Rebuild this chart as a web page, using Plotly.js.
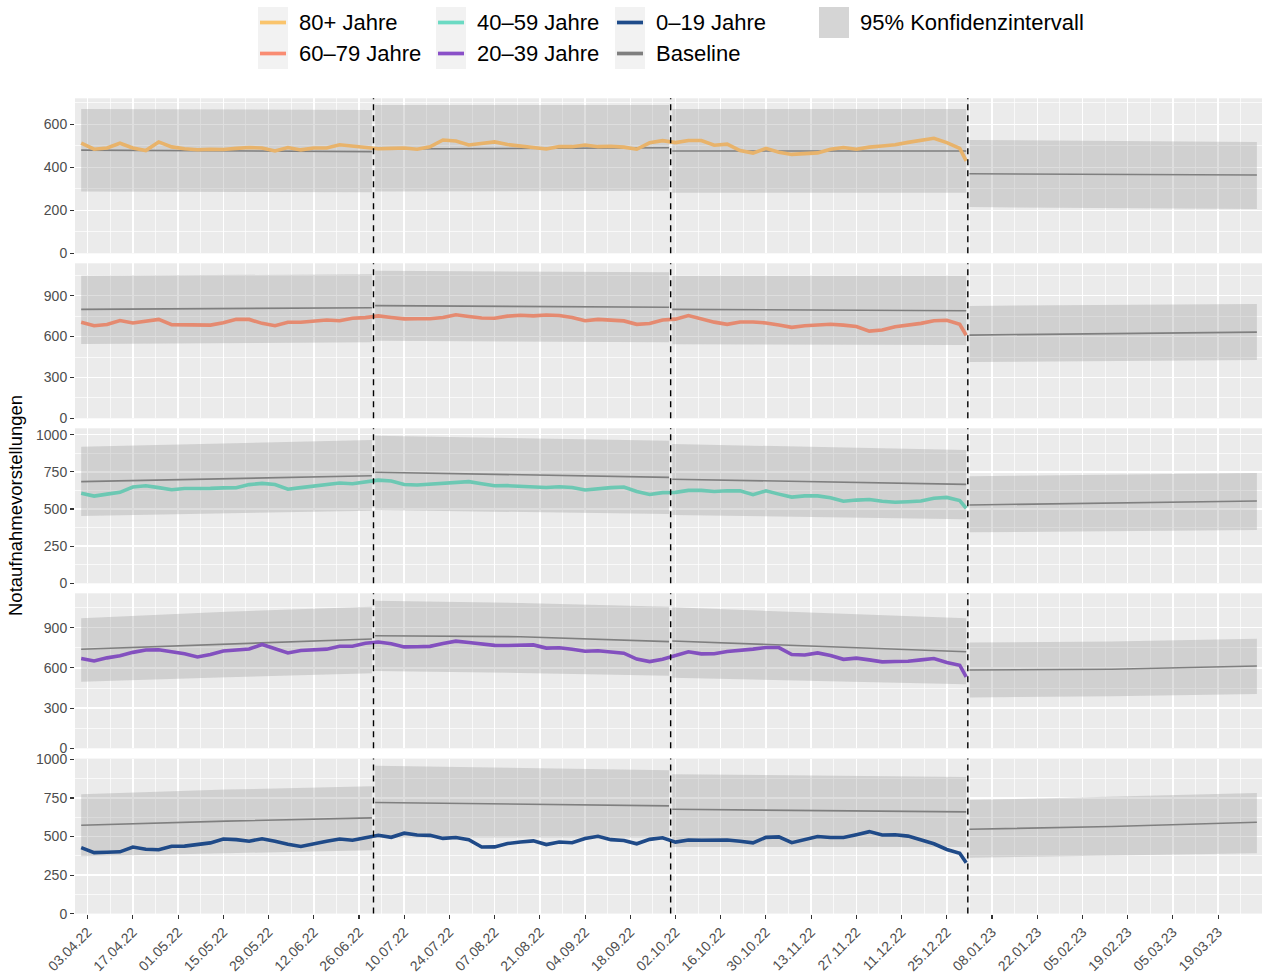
<!DOCTYPE html>
<html>
<head>
<meta charset="utf-8">
<script src="https://cdn.plot.ly/plotly-3.0.1.min.js"></script>
<style>
html,body{margin:0;padding:0;background:#ffffff;}
#chart{width:1264px;height:974px;}
</style>
</head>
<body>
<div id="chart"></div>
<script>
// ---------------- DATA ----------------
const groups = ['80+ Jahre', '60–79 Jahre', '40–59 Jahre', '20–39 Jahre', '0–19 Jahre'];
const lineColors = ['#E8B36B', '#E58A70', '#6CC8B3', '#8350BF', '#1F4A88'];
const legendColors = ['#FAC46C', '#F98C72', '#6BDAC3', '#8A50C8', '#1E4B8A'];

// day offsets from 01.04.2022 of the sampled daily values (every 4th day + 31.12.2022)
const dayOffsets = [0,4,8,12,16,20,24,28,32,36,40,44,48,52,56,60,64,68,72,76,80,84,88,
  92,96,100,104,108,112,116,120,124,128,132,136,140,144,148,152,156,160,164,168,172,176,180,
  184,188,192,196,200,204,208,212,216,220,224,228,232,236,240,244,248,252,256,260,264,268,272,274];

const values80 = [512,484,490,512,490,478,518,495,486,482,484,483,488,492,490,476,492,481,490,490,505,500,492,
  486,488,490,484,495,527,522,504,510,518,506,498,490,485,497,496,504,496,498,494,484,514,524,
  515,525,525,503,508,478,466,488,470,460,465,467,484,492,484,494,499,505,516,525,535,515,488,430];
const values60 = [705,680,688,718,700,712,726,688,685,681,684,702,727,726,697,680,705,705,712,722,716,735,739,
  752,740,730,731,731,740,760,748,736,735,750,757,752,758,755,740,716,726,722,715,690,696,722,
  728,754,728,706,690,707,707,700,685,668,680,685,690,684,674,640,648,672,682,697,716,720,690,610];
const values40 = [606,587,600,612,648,656,644,630,638,637,639,642,643,664,672,665,633,644,655,661,675,670,683,
  694,688,665,661,666,668,678,684,670,656,657,655,649,645,650,645,628,637,644,648,618,598,610,
  612,625,625,618,623,622,596,622,600,580,588,588,576,552,560,564,552,545,549,554,572,578,557,505];
const values20 = [670,652,675,691,716,734,736,720,706,682,700,726,736,741,775,746,712,730,735,740,762,762,784,
  793,781,757,758,761,782,800,790,780,768,767,771,772,748,750,740,724,728,716,710,666,647,664,
  695,720,705,706,722,728,740,752,752,700,696,712,692,664,673,660,645,648,650,660,670,640,620,534];
const values0 = [428,396,398,401,432,418,414,437,438,446,459,484,480,470,486,470,450,436,455,470,484,476,492,
  508,495,522,510,508,488,494,480,432,433,455,465,472,448,465,460,487,502,480,474,453,482,492,
  464,478,476,476,478,470,459,495,498,460,482,500,494,494,512,532,510,512,503,476,453,416,392,330];

// quarter segments of baseline and 95% interval: start, middle, end of each quarter
const quarterDates = [
  ['2022-04-01', '2022-05-16', '2022-06-30'],
  ['2022-07-01', '2022-08-15', '2022-09-30'],
  ['2022-10-01', '2022-11-15', '2022-12-31'],
  ['2023-01-01', '2023-02-14', '2023-03-31']
];
const baseline80 = [[480,477,473],[485,488,491],[476,476,476],[370,367,364]];
const upper80    = [[671,669,667],[690,690,690],[671,671,671],[527,523,518]];
const lower80    = [[287,286,284],[287,289,291],[282,282,282],[215,211,206]];

const baseline60 = [[800,806,812],[827,822,815],[800,796,790],[611,622,633]];
const upper60    = [[1047,1052,1057],[1084,1079,1072],[1047,1047,1047],[825,832,839]];
const lower60    = [[545,552,558],[570,565,558],[543,540,538],[413,420,428]];

const baseline40 = [[684,706,724],[747,731,713],[700,683,666],[527,540,554]];
const upper40    = [[919,943,964],[993,977,960],[937,917,897],[720,730,742]];
const lower40    = [[453,472,489],[493,480,466],[460,446,431],[343,350,359]];

const baseline20 = [[739,780,816],[840,833,796],[801,760,721],[584,590,614]];
const upper20    = [[970,1020,1057],[1102,1085,1057],[1052,1010,970],[789,798,818]];
const lower20    = [[497,530,560],[577,562,542],[527,500,478],[380,388,405]];

const baseline0  = [[573,600,621],[721,712,699],[677,667,660],[547,565,593]];
const upper0     = [[775,805,827],[959,946,931],[905,895,887],[737,757,782]];
const lower0     = [[372,392,411],[494,494,494],[433,433,433],[362,375,392]];

const quarterBreaks = ['2022-06-30 12:00', '2022-09-30 12:00', '2022-12-31 12:00'];

const yMax = [721, 1138, 1043, 1157, 1006];
const yTicks = [[0,200,400,600],[0,300,600,900],[0,250,500,750,1000],[0,300,600,900],[0,250,500,750,1000]];
const yMinorStep = [100, 150, 125, 150, 125];

const legendLabels = ['80+ Jahre','60–79 Jahre','40–59 Jahre','20–39 Jahre','0–19 Jahre','Baseline','95% Konfidenzintervall'];
const yTitle = 'Notaufnahmevorstellungen';

// ---------------- BUILD ----------------
const seriesValues = [values80, values60, values40, values20, values0];
const baselines = [baseline80, baseline60, baseline40, baseline20, baseline0];
const uppers = [upper80, upper60, upper40, upper20, upper0];
const lowers = [lower80, lower60, lower40, lower20, lower0];

const start = Date.UTC(2022, 3, 1);
const dates = dayOffsets.map(d => new Date(start + d * 86400000).toISOString().slice(0, 10));

const W = 1264, H = 974, ML = 75, MR = 2;
const PW = W - ML - MR;
const px = v => (v - ML) / PW;
const py = v => 1 - v / H;
const panelTops = [98.3, 263.3, 428.3, 593.3, 758.6];
const panelH = 155;

const ribbonFill = 'rgba(145,145,145,0.3)';
const baseColor = '#7F7F7F';
const font = 'Liberation Sans, Arial, Helvetica, sans-serif';

const traces = [];
const layout = {
  width: W, height: H,
  margin: {l: ML, r: MR, t: 0, b: 0},
  paper_bgcolor: '#FFFFFF',
  plot_bgcolor: '#EBEBEB',
  showlegend: false,
  font: {family: font, color: '#000000'},
  xaxis: {
    type: 'date',
    domain: [0, 1],
    anchor: 'y5',
    range: ['2022-03-30 02:00', '2023-04-01 14:00'],
    tick0: '2022-04-03',
    dtick: 14 * 86400000,
    tickformat: '%d.%m.%y',
    tickangle: -45,
    ticks: 'outside', ticklen: 4, tickwidth: 1.1, tickcolor: '#333333',
    tickfont: {size: 14, color: '#4D4D4D', family: font},
    showgrid: true, gridcolor: '#FFFFFF', gridwidth: 1.5,
    minor: {tick0: '2022-04-03', dtick: 7 * 86400000, showgrid: true, gridcolor: '#FFFFFF', gridwidth: 0.7, ticks: ''},
    zeroline: false, showline: false, fixedrange: true
  },
  shapes: [],
  annotations: []
};

for (let i = 0; i < 5; i++) {
  const yName = i === 0 ? 'y' : 'y' + (i + 1);
  const yKey = i === 0 ? 'yaxis' : 'yaxis' + (i + 1);
  const top = panelTops[i];
  layout[yKey] = {
    domain: [py(top + panelH), py(top)],
    anchor: 'x',
    range: [0, yMax[i]],
    tickmode: 'array', tickvals: yTicks[i], ticktext: yTicks[i].map(String),
    ticks: 'outside', ticklen: 4, tickwidth: 1.1, tickcolor: '#333333',
    tickfont: {size: 14, color: '#4D4D4D', family: font},
    showgrid: true, gridcolor: '#FFFFFF', gridwidth: 1.5,
    minor: {dtick: yMinorStep[i], tick0: 0, showgrid: true, gridcolor: '#FFFFFF', gridwidth: 0.7, ticks: ''},
    zeroline: false, showline: false, fixedrange: true
  };

  // ribbons (one polygon per quarter)
  for (let q = 0; q < 4; q++) {
    const qd = quarterDates[q];
    traces.push({
      type: 'scatter', mode: 'lines', xaxis: 'x', yaxis: yName,
      x: [qd[0], qd[1], qd[2], qd[2], qd[1], qd[0]],
      y: [uppers[i][q][0], uppers[i][q][1], uppers[i][q][2], lowers[i][q][2], lowers[i][q][1], lowers[i][q][0]],
      fill: 'toself', fillcolor: ribbonFill, line: {width: 0}, hoverinfo: 'skip'
    });
  }
  // baseline segments
  const bx = [], by = [];
  for (let q = 0; q < 4; q++) {
    for (let k = 0; k < 3; k++) { bx.push(quarterDates[q][k]); by.push(baselines[i][q][k]); }
    bx.push(null); by.push(null);
  }
  traces.push({
    type: 'scatter', mode: 'lines', xaxis: 'x', yaxis: yName,
    x: bx, y: by, connectgaps: false,
    line: {color: baseColor, width: 1.6}, hoverinfo: 'skip'
  });
  // observed values
  traces.push({
    type: 'scatter', mode: 'lines', xaxis: 'x', yaxis: yName, name: groups[i],
    x: dates, y: seriesValues[i],
    line: {color: lineColors[i], width: 3.6, shape: 'linear'}
  });
  // quarter break dashed lines
  quarterBreaks.forEach(d => {
    layout.shapes.push({
      type: 'line', xref: 'x', yref: yName + ' domain',
      x0: d, x1: d, y0: 0, y1: 1,
      line: {color: '#000000', width: 1.4, dash: '6px,5px'}
    });
  });
}

// ---------------- LEGEND (manual, ggplot style) ----------------
const colX = [258, 436, 615, 819];
const rowY = [[7, 38], [38, 69]];
const legendItems = [
  {col: 0, row: 0, label: legendLabels[0], color: legendColors[0]},
  {col: 0, row: 1, label: legendLabels[1], color: legendColors[1]},
  {col: 1, row: 0, label: legendLabels[2], color: legendColors[2]},
  {col: 1, row: 1, label: legendLabels[3], color: legendColors[3]},
  {col: 2, row: 0, label: legendLabels[4], color: legendColors[4]},
  {col: 2, row: 1, label: legendLabels[5], color: baseColor},
  {col: 3, row: 0, label: legendLabels[6], color: null}
];
legendItems.forEach(it => {
  const x0 = colX[it.col], x1 = x0 + 30;
  const y0 = rowY[it.row][0], y1 = rowY[it.row][1];
  layout.shapes.push({
    type: 'rect', xref: 'paper', yref: 'paper',
    x0: px(x0), x1: px(x1), y0: py(y1), y1: py(y0),
    fillcolor: '#F2F2F2', line: {width: 0}, layer: 'above'
  });
  if (it.color) {
    const yc = (y0 + y1) / 2;
    layout.shapes.push({
      type: 'line', xref: 'paper', yref: 'paper',
      x0: px(x0 + 2), x1: px(x1 - 2), y0: py(yc), y1: py(yc),
      line: {color: it.color, width: 3.7}, layer: 'above'
    });
  } else {
    layout.shapes.push({
      type: 'rect', xref: 'paper', yref: 'paper',
      x0: px(x0), x1: px(x1), y0: py(y1), y1: py(y0),
      fillcolor: ribbonFill, line: {width: 0}, layer: 'above'
    });
  }
  layout.annotations.push({
    xref: 'paper', yref: 'paper', x: px(x1 + 9), y: py((y0 + y1) / 2),
    xanchor: 'left', yanchor: 'middle', showarrow: false,
    text: it.label, font: {size: 22, color: '#000000', family: font}
  });
});

// y axis title
layout.annotations.push({
  xref: 'paper', yref: 'paper', x: px(15), y: py(506),
  xanchor: 'center', yanchor: 'middle', showarrow: false, textangle: -90,
  text: yTitle, font: {size: 18.5, color: '#000000', family: font}
});

Plotly.newPlot('chart', traces, layout, {displayModeBar: false, staticPlot: true});
</script>
</body>
</html>
